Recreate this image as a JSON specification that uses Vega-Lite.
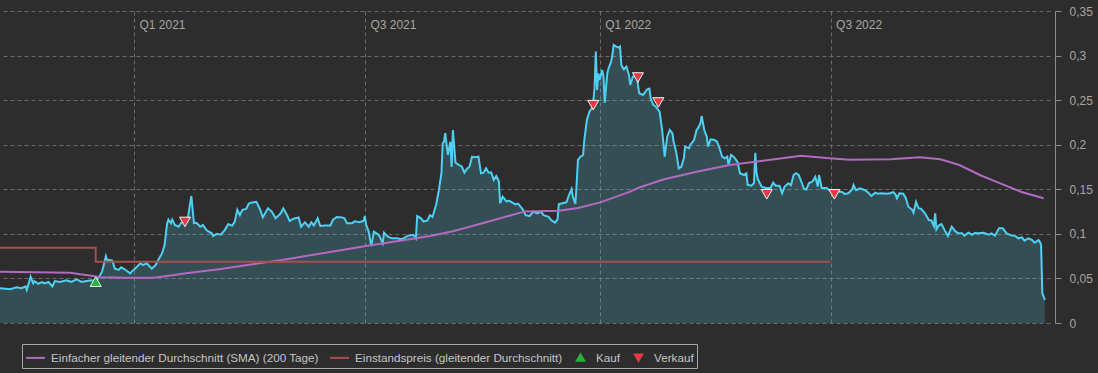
{
  "$schema": "https://vega.github.io/schema/vega-lite/v6.json",
  "autosize": "none",
  "width": 1050,
  "height": 312,
  "padding": {"top": 11, "left": 0, "right": 48, "bottom": 50},
  "background": "#2d2d2d",
  "config": {
    "view": {"stroke": null},
    "font": "Liberation Sans"
  },
  "datasets": {
    "kurs": [
      {"d":"2020-09-18","v":0.039},{"d":"2020-09-26","v":0.038},{"d":"2020-10-01","v":0.040},{"d":"2020-10-05","v":0.039},
      {"d":"2020-10-08","v":0.041},{"d":"2020-10-09","v":0.037},{"d":"2020-10-12","v":0.052},{"d":"2020-10-13","v":0.048},
      {"d":"2020-10-14","v":0.0445},{"d":"2020-10-15","v":0.047},{"d":"2020-10-18","v":0.044},{"d":"2020-10-21","v":0.046},
      {"d":"2020-10-23","v":0.0445},{"d":"2020-10-26","v":0.046},{"d":"2020-10-29","v":0.041},{"d":"2020-10-31","v":0.047},
      {"d":"2020-11-04","v":0.046},{"d":"2020-11-09","v":0.048},{"d":"2020-11-13","v":0.046},{"d":"2020-11-17","v":0.049},
      {"d":"2020-11-21","v":0.046},{"d":"2020-11-25","v":0.047},{"d":"2020-11-29","v":0.048},{"d":"2020-12-02","v":0.047},
      {"d":"2020-12-04","v":0.050},{"d":"2020-12-07","v":0.0575},{"d":"2020-12-09","v":0.069},{"d":"2020-12-10","v":0.075},
      {"d":"2020-12-11","v":0.0707},{"d":"2020-12-13","v":0.0707},{"d":"2020-12-15","v":0.070},{"d":"2020-12-17","v":0.061},
      {"d":"2020-12-20","v":0.0595},{"d":"2020-12-22","v":0.0625},{"d":"2020-12-25","v":0.060},{"d":"2020-12-29","v":0.0557},
      {"d":"2020-12-31","v":0.0587},{"d":"2021-01-03","v":0.0625},{"d":"2021-01-06","v":0.067},{"d":"2021-01-08","v":0.065},
      {"d":"2021-01-11","v":0.067},{"d":"2021-01-15","v":0.061},{"d":"2021-01-18","v":0.065},{"d":"2021-01-20","v":0.0707},
      {"d":"2021-01-23","v":0.078},{"d":"2021-01-25","v":0.0875},{"d":"2021-01-27","v":0.112},{"d":"2021-01-28","v":0.116},
      {"d":"2021-01-30","v":0.112},{"d":"2021-01-31","v":0.116},{"d":"2021-02-02","v":0.110},{"d":"2021-02-05","v":0.108},
      {"d":"2021-02-07","v":0.1125},{"d":"2021-02-10","v":0.114},{"d":"2021-02-12","v":0.115},{"d":"2021-02-14","v":0.134},
      {"d":"2021-02-15","v":0.1425},{"d":"2021-02-17","v":0.112},{"d":"2021-02-19","v":0.1125},{"d":"2021-02-22","v":0.108},
      {"d":"2021-02-24","v":0.110},{"d":"2021-02-27","v":0.104},{"d":"2021-03-03","v":0.1006},{"d":"2021-03-04","v":0.0976},
      {"d":"2021-03-07","v":0.100},{"d":"2021-03-10","v":0.099},{"d":"2021-03-13","v":0.104},{"d":"2021-03-16","v":0.111},
      {"d":"2021-03-19","v":0.109},{"d":"2021-03-21","v":0.1137},{"d":"2021-03-23","v":0.127},{"d":"2021-03-25","v":0.121},
      {"d":"2021-03-27","v":0.127},{"d":"2021-03-30","v":0.128},{"d":"2021-04-01","v":0.134},{"d":"2021-04-03","v":0.135},
      {"d":"2021-04-07","v":0.136},{"d":"2021-04-10","v":0.127},{"d":"2021-04-12","v":0.1185},{"d":"2021-04-16","v":0.1287},
      {"d":"2021-04-19","v":0.125},{"d":"2021-04-22","v":0.1174},{"d":"2021-04-26","v":0.123},{"d":"2021-04-28","v":0.1287},
      {"d":"2021-05-01","v":0.121},{"d":"2021-05-03","v":0.1144},{"d":"2021-05-06","v":0.117},{"d":"2021-05-10","v":0.1185},
      {"d":"2021-05-12","v":0.108},{"d":"2021-05-15","v":0.113},{"d":"2021-05-18","v":0.108},{"d":"2021-05-20","v":0.113},
      {"d":"2021-05-22","v":0.1095},{"d":"2021-05-25","v":0.1174},{"d":"2021-05-27","v":0.1088},{"d":"2021-05-31","v":0.1095},
      {"d":"2021-06-04","v":0.1095},{"d":"2021-06-06","v":0.116},{"d":"2021-06-09","v":0.119},{"d":"2021-06-13","v":0.1185},
      {"d":"2021-06-15","v":0.1174},{"d":"2021-06-17","v":0.1118},{"d":"2021-06-21","v":0.112},{"d":"2021-06-23","v":0.114},
      {"d":"2021-06-27","v":0.113},{"d":"2021-06-30","v":0.1148},{"d":"2021-07-01","v":0.120},{"d":"2021-07-02","v":0.110},
      {"d":"2021-07-04","v":0.1025},{"d":"2021-07-06","v":0.0864},{"d":"2021-07-08","v":0.1025},{"d":"2021-07-12","v":0.0987},
      {"d":"2021-07-15","v":0.0894},{"d":"2021-07-16","v":0.1013},{"d":"2021-07-19","v":0.0968},{"d":"2021-07-22","v":0.095},
      {"d":"2021-07-26","v":0.095},{"d":"2021-07-30","v":0.094},{"d":"2021-08-04","v":0.098},{"d":"2021-08-08","v":0.099},
      {"d":"2021-08-10","v":0.095},{"d":"2021-08-11","v":0.120},{"d":"2021-08-14","v":0.1174},{"d":"2021-08-16","v":0.1137},
      {"d":"2021-08-19","v":0.115},{"d":"2021-08-21","v":0.121},{"d":"2021-08-23","v":0.119},{"d":"2021-08-26","v":0.1335},
      {"d":"2021-08-28","v":0.149},{"d":"2021-08-30","v":0.168},{"d":"2021-08-31","v":0.2016},{"d":"2021-09-01","v":0.203},
      {"d":"2021-09-02","v":0.213},{"d":"2021-09-04","v":0.1885},{"d":"2021-09-06","v":0.2034},{"d":"2021-09-07","v":0.175},
      {"d":"2021-09-08","v":0.2165},{"d":"2021-09-10","v":0.180},{"d":"2021-09-12","v":0.178},{"d":"2021-09-15","v":0.1753},
      {"d":"2021-09-17","v":0.1686},{"d":"2021-09-19","v":0.173},{"d":"2021-09-21","v":0.1753},{"d":"2021-09-23","v":0.1866},
      {"d":"2021-09-25","v":0.186},{"d":"2021-09-28","v":0.1866},{"d":"2021-09-30","v":0.168},{"d":"2021-10-02","v":0.1686},
      {"d":"2021-10-04","v":0.1735},{"d":"2021-10-06","v":0.1686},{"d":"2021-10-08","v":0.169},{"d":"2021-10-10","v":0.1604},
      {"d":"2021-10-12","v":0.1649},{"d":"2021-10-14","v":0.159},{"d":"2021-10-15","v":0.1343},{"d":"2021-10-17","v":0.1417},
      {"d":"2021-10-20","v":0.1365},{"d":"2021-10-22","v":0.137},{"d":"2021-10-24","v":0.1355},{"d":"2021-10-27","v":0.1331},
      {"d":"2021-10-29","v":0.134},{"d":"2021-10-31","v":0.1305},{"d":"2021-11-02","v":0.127},{"d":"2021-11-04","v":0.121},
      {"d":"2021-11-07","v":0.120},{"d":"2021-11-10","v":0.125},{"d":"2021-11-13","v":0.123},{"d":"2021-11-16","v":0.125},
      {"d":"2021-11-18","v":0.121},{"d":"2021-11-22","v":0.119},{"d":"2021-11-24","v":0.1155},{"d":"2021-11-27","v":0.1125},
      {"d":"2021-11-29","v":0.1163},{"d":"2021-11-30","v":0.1335},{"d":"2021-12-03","v":0.1343},{"d":"2021-12-06","v":0.1355},
      {"d":"2021-12-08","v":0.1436},{"d":"2021-12-10","v":0.1503},{"d":"2021-12-11","v":0.1417},{"d":"2021-12-13","v":0.1335},
      {"d":"2021-12-14","v":0.1567},{"d":"2021-12-15","v":0.183},{"d":"2021-12-17","v":0.1866},{"d":"2021-12-19","v":0.1885},
      {"d":"2021-12-20","v":0.2053},{"d":"2021-12-22","v":0.2277},{"d":"2021-12-24","v":0.237},{"d":"2021-12-26","v":0.241},
      {"d":"2021-12-27","v":0.248},{"d":"2021-12-28","v":0.263},{"d":"2021-12-29","v":0.3044},{"d":"2021-12-30","v":0.2614},
      {"d":"2021-12-31","v":0.280},{"d":"2022-01-01","v":0.2726},{"d":"2022-01-03","v":0.2838},{"d":"2022-01-04","v":0.277},
      {"d":"2022-01-05","v":0.247},{"d":"2022-01-07","v":0.280},{"d":"2022-01-08","v":0.2857},{"d":"2022-01-10","v":0.293},
      {"d":"2022-01-11","v":0.3006},{"d":"2022-01-12","v":0.3119},{"d":"2022-01-14","v":0.310},{"d":"2022-01-16","v":0.309},
      {"d":"2022-01-17","v":0.310},{"d":"2022-01-18","v":0.2894},{"d":"2022-01-20","v":0.2846},{"d":"2022-01-22","v":0.2875},
      {"d":"2022-01-24","v":0.278},{"d":"2022-01-25","v":0.267},{"d":"2022-01-27","v":0.2763},{"d":"2022-01-30","v":0.278},
      {"d":"2022-02-01","v":0.2577},{"d":"2022-02-04","v":0.2558},{"d":"2022-02-06","v":0.2595},{"d":"2022-02-07","v":0.262},
      {"d":"2022-02-09","v":0.263},{"d":"2022-02-10","v":0.252},{"d":"2022-02-12","v":0.2446},{"d":"2022-02-14","v":0.2427},
      {"d":"2022-02-17","v":0.237},{"d":"2022-02-19","v":0.2165},{"d":"2022-02-20","v":0.2016},{"d":"2022-02-21","v":0.1866},
      {"d":"2022-02-23","v":0.209},{"d":"2022-02-25","v":0.2165},{"d":"2022-02-27","v":0.213},{"d":"2022-02-28","v":0.2034},
      {"d":"2022-03-02","v":0.192},{"d":"2022-03-04","v":0.1735},{"d":"2022-03-06","v":0.1753},{"d":"2022-03-08","v":0.1847},
      {"d":"2022-03-09","v":0.1978},{"d":"2022-03-12","v":0.196},{"d":"2022-03-13","v":0.1997},{"d":"2022-03-16","v":0.2053},
      {"d":"2022-03-18","v":0.2165},{"d":"2022-03-19","v":0.2183},{"d":"2022-03-21","v":0.224},{"d":"2022-03-22","v":0.2322},
      {"d":"2022-03-24","v":0.2165},{"d":"2022-03-26","v":0.209},{"d":"2022-03-27","v":0.1978},{"d":"2022-03-29","v":0.206},
      {"d":"2022-04-01","v":0.2053},{"d":"2022-04-03","v":0.2034},{"d":"2022-04-05","v":0.196},{"d":"2022-04-07","v":0.1866},
      {"d":"2022-04-09","v":0.1847},{"d":"2022-04-11","v":0.1866},{"d":"2022-04-12","v":0.1772},{"d":"2022-04-14","v":0.1885},
      {"d":"2022-04-16","v":0.1866},{"d":"2022-04-19","v":0.181},{"d":"2022-04-21","v":0.168},{"d":"2022-04-24","v":0.166},
      {"d":"2022-04-26","v":0.168},{"d":"2022-04-27","v":0.155},{"d":"2022-04-30","v":0.154},{"d":"2022-05-02","v":0.157},
      {"d":"2022-05-03","v":0.191},{"d":"2022-05-04","v":0.168},{"d":"2022-05-05","v":0.1612},{"d":"2022-05-08","v":0.153},
      {"d":"2022-05-11","v":0.1515},{"d":"2022-05-15","v":0.1515},{"d":"2022-05-17","v":0.1574},{"d":"2022-05-19","v":0.154},
      {"d":"2022-05-22","v":0.154},{"d":"2022-05-24","v":0.1455},{"d":"2022-05-26","v":0.153},{"d":"2022-05-29","v":0.1567},
      {"d":"2022-05-31","v":0.1545},{"d":"2022-06-02","v":0.166},{"d":"2022-06-04","v":0.168},{"d":"2022-06-06","v":0.166},
      {"d":"2022-06-08","v":0.159},{"d":"2022-06-10","v":0.151},{"d":"2022-06-12","v":0.1496},{"d":"2022-06-14","v":0.1567},
      {"d":"2022-06-17","v":0.159},{"d":"2022-06-19","v":0.164},{"d":"2022-06-21","v":0.153},{"d":"2022-06-22","v":0.166},
      {"d":"2022-06-24","v":0.1515},{"d":"2022-06-28","v":0.1515},{"d":"2022-06-30","v":0.149},{"d":"2022-07-06","v":0.1477},
      {"d":"2022-07-10","v":0.147},{"d":"2022-07-12","v":0.1447},{"d":"2022-07-15","v":0.1455},{"d":"2022-07-18","v":0.150},
      {"d":"2022-07-19","v":0.1548},{"d":"2022-07-21","v":0.149},{"d":"2022-07-24","v":0.151},{"d":"2022-07-26","v":0.150},
      {"d":"2022-07-28","v":0.149},{"d":"2022-07-31","v":0.1455},{"d":"2022-08-02","v":0.1425},{"d":"2022-08-05","v":0.1462},
      {"d":"2022-08-07","v":0.145},{"d":"2022-08-10","v":0.1455},{"d":"2022-08-14","v":0.145},{"d":"2022-08-17","v":0.1455},
      {"d":"2022-08-19","v":0.147},{"d":"2022-08-21","v":0.144},{"d":"2022-08-22","v":0.140},{"d":"2022-08-24","v":0.1455},
      {"d":"2022-08-27","v":0.145},{"d":"2022-08-29","v":0.140},{"d":"2022-08-31","v":0.1305},{"d":"2022-09-03","v":0.127},
      {"d":"2022-09-04","v":0.1238},{"d":"2022-09-06","v":0.136},{"d":"2022-09-08","v":0.1287},{"d":"2022-09-10","v":0.128},
      {"d":"2022-09-13","v":0.123},{"d":"2022-09-16","v":0.1155},{"d":"2022-09-18","v":0.115},{"d":"2022-09-20","v":0.1088},
      {"d":"2022-09-21","v":0.123},{"d":"2022-09-22","v":0.105},{"d":"2022-09-24","v":0.1096},{"d":"2022-09-26","v":0.111},
      {"d":"2022-09-29","v":0.1025},{"d":"2022-10-01","v":0.0976},{"d":"2022-10-04","v":0.108},{"d":"2022-10-07","v":0.1025},
      {"d":"2022-10-09","v":0.101},{"d":"2022-10-12","v":0.1006},{"d":"2022-10-14","v":0.098},{"d":"2022-10-17","v":0.1013},
      {"d":"2022-10-20","v":0.099},{"d":"2022-10-22","v":0.101},{"d":"2022-10-25","v":0.1006},{"d":"2022-10-29","v":0.1013},
      {"d":"2022-11-02","v":0.099},{"d":"2022-11-04","v":0.1006},{"d":"2022-11-07","v":0.098},{"d":"2022-11-10","v":0.1062},
      {"d":"2022-11-13","v":0.1062},{"d":"2022-11-16","v":0.1006},{"d":"2022-11-20","v":0.098},{"d":"2022-11-23","v":0.0975},
      {"d":"2022-11-25","v":0.095},{"d":"2022-11-28","v":0.0961},{"d":"2022-11-30","v":0.0923},{"d":"2022-12-03","v":0.095},
      {"d":"2022-12-06","v":0.093},{"d":"2022-12-08","v":0.090},{"d":"2022-12-11","v":0.093},{"d":"2022-12-12","v":0.0913},
      {"d":"2022-12-13","v":0.0875},{"d":"2022-12-14","v":0.0333},{"d":"2022-12-16","v":0.0258}
    ],
    "sma": [
      {"d":"2020-09-18","v":0.0576},{"d":"2020-11-12","v":0.0564},{"d":"2020-11-20","v":0.0546},{"d":"2020-11-30","v":0.0527},
      {"d":"2020-12-05","v":0.0513},{"d":"2020-12-25","v":0.0508},{"d":"2021-01-16","v":0.0508},{"d":"2021-01-27","v":0.0527},
      {"d":"2021-02-11","v":0.0557},{"d":"2021-03-10","v":0.0606},{"d":"2021-04-27","v":0.0707},{"d":"2021-07-02","v":0.0864},
      {"d":"2021-08-21","v":0.0976},{"d":"2021-09-08","v":0.103},{"d":"2021-10-04","v":0.113},{"d":"2021-10-31","v":0.1238},
      {"d":"2021-11-03","v":0.125},{"d":"2021-11-30","v":0.126},{"d":"2021-12-15","v":0.129},{"d":"2022-01-01","v":0.135},
      {"d":"2022-01-25","v":0.1473},{"d":"2022-02-01","v":0.152},{"d":"2022-02-20","v":0.161},{"d":"2022-03-18","v":0.1697},
      {"d":"2022-04-13","v":0.1772},{"d":"2022-05-09","v":0.182},{"d":"2022-06-08","v":0.1875},{"d":"2022-06-30","v":0.1847},
      {"d":"2022-07-16","v":0.183},{"d":"2022-08-17","v":0.1836},{"d":"2022-09-09","v":0.186},{"d":"2022-09-25","v":0.1836},
      {"d":"2022-10-10","v":0.1772},{"d":"2022-10-26","v":0.166},{"d":"2022-11-11","v":0.1567},{"d":"2022-11-27","v":0.1473},
      {"d":"2022-12-15","v":0.140}
    ],
    "einstand": [
      {"d":"2020-09-18","v":0.0845},{"d":"2020-12-02","v":0.0688},{"d":"2022-07-01","v":0.0688}
    ],
    "trades": [
      {"d":"2020-12-02","v":0.052,"typ":"Kauf"},
      {"d":"2021-02-10","v":0.119,"typ":"Verkauf"},
      {"d":"2021-12-27","v":0.25,"typ":"Verkauf"},
      {"d":"2022-01-31","v":0.281,"typ":"Verkauf"},
      {"d":"2022-02-16","v":0.253,"typ":"Verkauf"},
      {"d":"2022-05-12","v":0.150,"typ":"Verkauf"},
      {"d":"2022-07-04","v":0.150,"typ":"Verkauf"}
    ]
  },
  "encoding": {
    "x": {
      "field": "d", "type": "temporal",
      "scale": {"type": "utc", "domain": [{"year":2020,"month":9,"date":18,"utc":true},{"year":2022,"month":12,"date":20,"utc":true}]},
      "axis": {
        "orient": "top", "title": null,
        "values": [{"year":2021,"month":1,"date":1,"utc":true},{"year":2021,"month":7,"date":1,"utc":true},{"year":2022,"month":1,"date":1,"utc":true},{"year":2022,"month":7,"date":1,"utc":true}],
        "labelExpr": "'Q' + (floor(utcmonth(datum.value)/3)+1) + ' ' + utcyear(datum.value)",
        "grid": true, "gridColor": "#6a6a6a", "gridDash": [4,3], "gridWidth": 1,
        "domain": false, "ticks": false, "tickSize": 0,
        "labelAlign": "left", "labelBaseline": "middle", "labelPadding": -13, "labelOffset": 5,
        "labelFlush": false, "labelOverlap": false,
        "labelColor": "#a9a5a0", "labelFont": "Liberation Sans", "labelFontSize": 12
      }
    },
    "y": {
      "field": "v", "type": "quantitative",
      "scale": {"domain": [0, 0.35], "nice": false, "zero": true},
      "axis": {
        "orient": "right", "title": null, "offset": 5,
        "values": [0, 0.05, 0.1, 0.15, 0.2, 0.25, 0.3, 0.35],
        "labelExpr": "replace(format(datum.value, '.2~f'), '.', ',')",
        "grid": true, "gridColor": "#6a6a6a", "gridDash": [4,3], "gridWidth": 1,
        "domainColor": "#8c8c8c", "tickColor": "#8c8c8c", "tickSize": 6,
        "labelPadding": 8, "labelColor": "#a9a5a0", "labelFont": "Liberation Sans", "labelFontSize": 12
      }
    }
  },
  "layer": [
    {
      "data": {"name": "kurs"},
      "mark": {"type": "area", "color": "#4fd0f2", "opacity": 0.2}
    },
    {
      "data": {"name": "kurs"},
      "mark": {"type": "line", "color": "#4fd0f2", "strokeWidth": 2}
    },
    {
      "data": {"name": "sma"},
      "mark": {"type": "line", "strokeWidth": 2},
      "encoding": {
        "color": {
          "datum": "Einfacher gleitender Durchschnitt (SMA) (200 Tage)",
          "type": "nominal",
          "title": null,
          "scale": {
            "domain": ["Einfacher gleitender Durchschnitt (SMA) (200 Tage)", "Einstandspreis (gleitender Durchschnitt)", "Kauf", "Verkauf"],
            "range": ["#b26ac2", "#a4514d", "#27b43a", "#e33b45"]
          },
          "legend": {
            "title": null, "orient": "none", "legendX": 22, "legendY": 333,
            "direction": "horizontal",
            "strokeColor": "#a8a8a8", "padding": 3, "cornerRadius": 0,
            "labelFont": "Liberation Sans", "labelFontSize": 11.7, "labelColor": "#c4c4c4",
            "labelLimit": 400, "labelOffset": 5, "columnPadding": 7,
            "symbolSize": 361, "symbolStrokeWidth": 2,
            "encode": {
              "symbols": {
                "update": {
                  "shape": {"signal": "datum.value === 'Kauf' ? 'triangle-up' : datum.value === 'Verkauf' ? 'triangle-down' : 'stroke'"},
                  "size": {"signal": "datum.value === 'Kauf' || datum.value === 'Verkauf' ? 55 : 361"},
                  "fill": {"signal": "datum.value === 'Kauf' ? '#27b43a' : datum.value === 'Verkauf' ? '#e33b45' : 'transparent'"},
                  "stroke": {"signal": "datum.value === 'Kauf' || datum.value === 'Verkauf' ? 'transparent' : (indexof(datum.value, 'SMA') >= 0 ? '#b26ac2' : '#a4514d')"},
                  "strokeWidth": {"value": 2},
                  "opacity": {"value": 1}
                }
              }
            }
          }
        }
      }
    },
    {
      "data": {"name": "einstand"},
      "mark": {"type": "line", "strokeWidth": 2, "interpolate": "step-after"},
      "encoding": {
        "color": {"datum": "Einstandspreis (gleitender Durchschnitt)", "type": "nominal", "title": null}
      }
    },
    {
      "data": {"name": "trades"},
      "mark": {"type": "point", "filled": true, "size": 121, "opacity": 1, "stroke": "#f4f4f4", "strokeWidth": 1, "yOffset": 5},
      "encoding": {
        "color": {"field": "typ", "type": "nominal", "title": null},
        "shape": {"field": "typ", "type": "nominal", "title": null, "scale": {"domain": ["Kauf", "Verkauf"], "range": ["triangle-up", "triangle-down"]}, "legend": null}
      }
    }
  ]
}
